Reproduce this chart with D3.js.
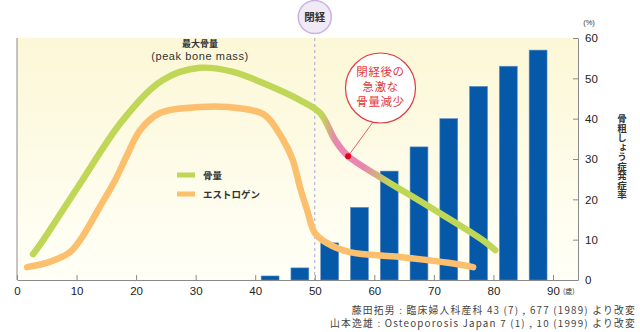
<!DOCTYPE html>
<html>
<head>
<meta charset="utf-8">
<script src="https://cdn.jsdelivr.net/npm/d3@7"></script>
<style>
    body { margin: 0; background: #fff; }
    svg text { font-family: "Liberation Sans", "Noto Sans CJK JP", sans-serif; }
    .jp { font-family: "Noto Sans CJK JP", sans-serif; }
</style>
</head>
<body>
<div id="graph"></div>
<script>

// bar data: osteoporosis incidence (%) by age group (center of group)
const barAges = [42.5, 47.5, 52.5, 57.5, 62.5, 67.5, 72.5, 77.5, 82.5, 87.5];
const barValues = [1, 3, 9.2, 18, 27, 33, 40, 48, 53, 57];

// bone mass curve [age, relative level]
const boneAges = [2.7, 4.4, 10.2, 17.8, 24.5, 30.7, 36.3, 42, 47.5, 50.9, 53.4, 55.6, 61, 69.3, 78.2, 80.3];
const boneLevels = [6.4, 9.9, 23, 39.7, 49.6, 52.6, 51.6, 48.4, 44.6, 41.4, 34.7, 30.7, 25.5, 18.1, 9.9, 7.4];

// estrogen curve [age, relative level]
const estAges = [1.7, 5.5, 8.9, 10.6, 13.9, 16.5, 18.5, 20.7, 24, 30.7, 37.4, 41.6, 44.7, 46.3, 47.5, 48.7, 50, 52, 55.9, 64.3, 72.7, 76.6];
const estLevels = [3.2, 4.5, 6.9, 9.9, 18.1, 24.8, 31, 37.2, 41.4, 42.9, 42.6, 40.9, 34.7, 29.8, 23.1, 17.4, 11.7, 9.2, 6.9, 5.7, 4.2, 3.2];

const xTicks = [0, 10, 20, 30, 40, 50, 60, 70, 80, 90];
const yTicks = [0, 10, 20, 30, 40, 50, 60];
const menopauseAge = 50;
const calloutAge = 55.6;

const sources = [
    '藤田拓男 : 臨床婦人科産科 43 (7) , 677 (1989) より改変',
    '山本逸雄 : Osteoporosis Japan 7 (1) , 10 (1999) より改変'
];

const W = 640, H = 332;
const plot = {left: 17, right: 578, top: 38, bottom: 280};

const svg = d3.select('#graph')
    .append('svg')
    .attr('width', W)
    .attr('height', H);

const x = d3.scaleLinear()
    .domain([0, 94.2])
    .range([plot.left, plot.right]);

const y = d3.scaleLinear()
    .domain([0, 60])
    .range([plot.bottom, plot.top]);

const defs = svg.append('defs');

// pale yellow background fading down
const bg = defs.append('linearGradient')
    .attr('id', 'bg')
    .attr('x1', 0).attr('y1', 0).attr('x2', 0).attr('y2', 1);
bg.append('stop').attr('offset', '0%').attr('stop-color', '#fcf7d6');
bg.append('stop').attr('offset', '100%').attr('stop-color', '#fffff7');

// bone mass line turns pink right after menopause
const boneGrad = defs.append('linearGradient')
    .attr('id', 'boneGrad')
    .attr('gradientUnits', 'userSpaceOnUse')
    .attr('x1', x(50)).attr('y1', 0)
    .attr('x2', x(66)).attr('y2', 0);
[[0, '#bfd656'], [0.08, '#bfd656'], [0.22, '#ea84b0'], [0.5, '#ea84b0'], [0.78, '#bfd656'], [1, '#bfd656']]
    .forEach(s => boneGrad.append('stop').attr('offset', s[0]).attr('stop-color', s[1]));

svg.append('rect')
    .attr('x', plot.left)
    .attr('y', plot.top)
    .attr('width', plot.right - plot.left)
    .attr('height', plot.bottom - plot.top)
    .attr('fill', 'url(#bg)');

// menopause dashed line
svg.append('line')
    .attr('x1', x(menopauseAge)).attr('x2', x(menopauseAge))
    .attr('y1', plot.top).attr('y2', plot.bottom)
    .style('stroke', '#aaa6d8')
    .style('stroke-width', 1)
    .style('stroke-dasharray', '3,3');

// bars
const barW = x(3) - x(0);
svg.append('g')
    .selectAll('rect')
    .data(barAges.map((a, i) => ({age: a, value: barValues[i]})))
    .enter()
    .append('rect')
    .attr('x', d => x(d.age) - barW / 2)
    .attr('y', d => y(d.value))
    .attr('width', barW)
    .attr('height', d => y(0) - y(d.value))
    .attr('fill', '#0559a8')
    .attr('stroke', '#5c8fc6')
    .attr('stroke-width', 0.6);

// curves
const line = d3.line()
    .x(d => x(d[0]))
    .y(d => y(d[1]))
    .curve(d3.curveCatmullRom.alpha(0.5));

svg.append('path')
    .datum(estAges.map((a, i) => [a, estLevels[i]]))
    .attr('d', line)
    .attr('fill', 'none')
    .attr('stroke', '#fbbf6d')
    .attr('stroke-width', 6.5)
    .attr('stroke-linecap', 'round');

svg.append('path')
    .datum(boneAges.map((a, i) => [a, boneLevels[i]]))
    .attr('d', line)
    .attr('fill', 'none')
    .attr('stroke', 'url(#boneGrad)')
    .attr('stroke-width', 6.5)
    .attr('stroke-linecap', 'round');

// axes
const axisColor = '#8a8a8a';
svg.append('line')
    .attr('x1', plot.left).attr('x2', plot.left)
    .attr('y1', plot.top).attr('y2', plot.bottom)
    .style('stroke', axisColor);

const xAxis = svg.append('g')
    .attr('transform', `translate(0, ${plot.bottom})`)
    .call(d3.axisBottom(x).tickValues(xTicks).tickSizeInner(-5).tickSizeOuter(0).tickPadding(7));
xAxis.select('.domain').attr('stroke', axisColor);
xAxis.selectAll('.tick line').attr('stroke', axisColor);
xAxis.selectAll('text').attr('font-size', 11.5).attr('fill', '#222');

const yAxis = svg.append('g')
    .attr('transform', `translate(${plot.right}, 0)`)
    .call(d3.axisRight(y).tickValues(yTicks).tickSizeInner(-5).tickSizeOuter(0).tickPadding(7));
yAxis.select('.domain').attr('stroke', axisColor);
yAxis.selectAll('.tick line').attr('stroke', axisColor);
yAxis.selectAll('text').attr('font-size', 11.5).attr('fill', '#222');

svg.append('text')
    .attr('x', 589).attr('y', 25)
    .attr('text-anchor', 'middle')
    .attr('font-size', 7.5)
    .attr('fill', '#333')
    .text('(%)');

svg.append('text')
    .attr('class', 'jp')
    .attr('x', x(90) + 10).attr('y', 294)
    .attr('font-size', 7)
    .attr('fill', '#333')
    .text('(歳)');

svg.append('text')
    .attr('class', 'jp')
    .attr('x', 622).attr('y', 114)
    .attr('font-size', 9.5)
    .attr('font-weight', 'bold')
    .attr('fill', '#333')
    .style('writing-mode', 'vertical-rl')
    .style('glyph-orientation-vertical', 0)
    .text('骨粗しょう症発症率');

// menopause marker
svg.append('circle')
    .attr('cx', x(menopauseAge)).attr('cy', 17).attr('r', 16.5)
    .attr('fill', '#f1eaf6')
    .attr('stroke', '#c9b2dd')
    .attr('stroke-width', 1.5);
svg.append('text')
    .attr('class', 'jp')
    .attr('x', x(menopauseAge)).attr('y', 21)
    .attr('text-anchor', 'middle')
    .attr('font-size', 10.5)
    .attr('font-weight', 'bold')
    .attr('fill', '#333')
    .text('閉経');

// peak bone mass label
svg.append('text')
    .attr('class', 'jp')
    .attr('x', 200).attr('y', 47)
    .attr('text-anchor', 'middle')
    .attr('font-size', 9)
    .attr('font-weight', 'bold')
    .attr('fill', '#333')
    .text('最大骨量');
svg.append('text')
    .attr('x', 200).attr('y', 60)
    .attr('text-anchor', 'middle')
    .attr('font-size', 11)
    .attr('letter-spacing', 0.6)
    .attr('fill', '#333')
    .text('(peak bone mass)');

// legend
const legend = [['骨量', '#bfd656'], ['エストロゲン', '#fbbf6d']];
legend.forEach((l, i) => {
    const ly = 175 + i * 19;
    svg.append('line')
        .attr('x1', 177).attr('x2', 195)
        .attr('y1', ly).attr('y2', ly)
        .attr('stroke', l[1])
        .attr('stroke-width', 5);
    svg.append('text')
        .attr('class', 'jp')
        .attr('x', 203).attr('y', ly + 3.5)
        .attr('font-size', 9.5)
        .attr('font-weight', 'bold')
        .attr('fill', '#333')
        .text(l[0]);
});

// callout for rapid bone loss
const dotY = y(boneLevels[boneAges.indexOf(calloutAge)]);
svg.append('line')
    .attr('x1', x(calloutAge)).attr('y1', dotY)
    .attr('x2', 373).attr('y2', 122)
    .attr('stroke', '#e3383c')
    .attr('stroke-width', 0.8);
svg.append('circle')
    .attr('cx', 380.5).attr('cy', 88).attr('r', 35)
    .attr('fill', '#fff')
    .attr('stroke', '#e3383c')
    .attr('stroke-width', 1.2);
svg.append('circle')
    .attr('cx', x(calloutAge)).attr('cy', dotY).attr('r', 3)
    .attr('fill', '#e3001b');
['閉経後の', '急激な', '骨量減少'].forEach((t, i) => {
    svg.append('text')
        .attr('class', 'jp')
        .attr('x', 380.5).attr('y', 76 + i * 15)
        .attr('text-anchor', 'middle')
        .attr('font-size', 11.5)
        .attr('letter-spacing', 0.6)
        .attr('fill', '#e3383c')
        .text(t);
});

// sources
sources.forEach((s, i) => {
    svg.append('text')
        .attr('class', 'jp')
        .attr('x', 636).attr('y', 314 + i * 12.5)
        .attr('text-anchor', 'end')
        .attr('font-size', 9.8)
        .attr('letter-spacing', 1.2)
        .attr('fill', '#444')
        .text(s);
});

</script>
</body>
</html>
